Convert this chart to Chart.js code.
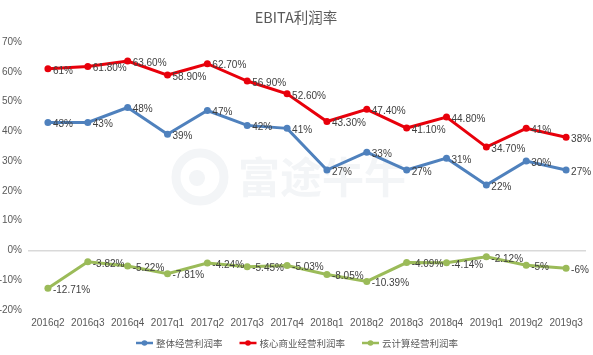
<!DOCTYPE html>
<html><head><meta charset="utf-8">
<script src="https://cdn.jsdelivr.net/npm/chart.js@4/dist/chart.umd.min.js"></script>
<style>html,body{margin:0;padding:0;background:#fff}#w{width:593px;height:355px}</style>
</head><body><div id="w"><canvas id="c"></canvas></div>
<script>
const categories = ["2016q2","2016q3","2016q4","2017q1","2017q2","2017q3","2017q4","2018q1","2018q2","2018q3","2018q4","2019q1","2019q2","2019q3"];
const overall = [43,43,48,39,47,42,41,27,33,27,31,22,30,27];
const overallLabels = ["43%","43%","48%","39%","47%","42%","41%","27%","33%","27%","31%","22%","30%","27%"];
const core = [61,61.8,63.6,58.9,62.7,56.9,52.6,43.3,47.4,41.1,44.8,34.7,41,38];
const coreLabels = ["61%","61.80%","63.60%","58.90%","62.70%","56.90%","52.60%","43.30%","47.40%","41.10%","44.80%","34.70%","41%","38%"];
const cloud = [-12.71,-3.82,-5.22,-7.81,-4.24,-5.45,-5.03,-8.05,-10.39,-4.09,-4.14,-2.12,-5,-6];
const cloudLabels = ["-12.71%","-3.82%","-5.22%","-7.81%","-4.24%","-5.45%","-5.03%","-8.05%","-10.39%","-4.09%","-4.14%","-2.12%","-5%","-6%"];
const seriesNames = ["整体经营利润率","核心商业经营利润率","云计算经营利润率"];
const titleText = "EBITA利润率";
const colors = ["#4f81bd","#e8000b","#9bbb59"];
const allLabels = [overallLabels, coreLabels, cloudLabels];
const FONT = "'Liberation Sans', 'Noto Sans CJK SC', sans-serif";

const extras = {
  id: 'extras',
  beforeDatasetsDraw(chart) {
    const ctx = chart.ctx;
    ctx.save();
    ctx.fillStyle = '#f3f5f7';
    ctx.font = "bold 42px 'Noto Sans CJK SC'";
    ctx.textBaseline = 'middle';
    ctx.fillText("富途牛牛", 238, 177);
    ctx.lineWidth = 9; ctx.strokeStyle = '#f3f5f7';
    ctx.beginPath(); ctx.arc(200,177,24,0,Math.PI*2); ctx.stroke();
    ctx.beginPath(); ctx.arc(197,178,8,0,Math.PI*2); ctx.fill();
    ctx.restore();
  },
  afterDraw(chart) {
    const ctx = chart.ctx;
    ctx.save();
    // title
    ctx.fillStyle = '#595959';
    ctx.font = "14.5px 'Noto Sans CJK SC', sans-serif";
    ctx.textAlign = 'center'; ctx.textBaseline = 'middle';
    ctx.fillText(titleText, 296, 17);
    // data labels
    ctx.font = "10px " + FONT;
    ctx.textAlign = 'left'; ctx.fillStyle = '#404040';
    chart.data.datasets.forEach((ds, i) => {
      const meta = chart.getDatasetMeta(i);
      meta.data.forEach((pt, j) => {
        ctx.fillText(allLabels[i][j], pt.x + 5, pt.y + 2);
      });
    });
    // legend
    ctx.font = "9.5px 'Noto Sans CJK SC', sans-serif";
    ctx.textBaseline = 'middle';
    const ly = 343;
    const widths = seriesNames.map(n => ctx.measureText(n).width);
    const lineW = 17, gapText = 3, gapItem = 17;
    let total = 0;
    widths.forEach((w,i) => { total += lineW + gapText + w + (i < widths.length-1 ? gapItem : 0); });
    let x = 297 - total/2;
    seriesNames.forEach((n, i) => {
      ctx.strokeStyle = colors[i]; ctx.lineWidth = 2.5;
      ctx.beginPath(); ctx.moveTo(x, ly); ctx.lineTo(x+lineW, ly); ctx.stroke();
      ctx.fillStyle = colors[i];
      ctx.beginPath(); ctx.arc(x+lineW/2, ly, 2.8, 0, Math.PI*2); ctx.fill();
      ctx.fillStyle = '#595959';
      ctx.fillText(n, x + lineW + gapText, ly);
      x += lineW + gapText + widths[i] + gapItem;
    });
    ctx.restore();
  }
};

const mk = (label, data, color) => ({
  label, data, borderColor: color, backgroundColor: color,
  borderWidth: 3, pointRadius: 3.5, pointBackgroundColor: color, pointBorderWidth: 0,
  tension: 0, fill: false
});

new Chart(document.getElementById('c'), {
  type: 'line',
  data: {
    labels: categories,
    datasets: [mk(seriesNames[0], overall, colors[0]), mk(seriesNames[1], core, colors[1]), mk(seriesNames[2], cloud, colors[2])]
  },
  options: {
    responsive: true, maintainAspectRatio: false, animation: false,
    devicePixelRatio: 1,
    layout: { padding: { top: 42, right: 7, bottom: 20, left: 0 } },
    plugins: { legend: { display: false }, title: { display: false }, tooltip: { enabled: false } },
    scales: {
      x: {
        offset: true,
        grid: { display: false, drawTicks: false },
        border: { display: false },
        ticks: { color: '#595959', font: { size: 10, family: FONT }, padding: 7, maxRotation: 0, autoSkip: false },
        afterFit(s) { s.height = 25; }
      },
      y: {
        min: -20, max: 70,
        grid: { color: ctx => ctx.tick && ctx.tick.value === 0 ? '#d9d9d9' : 'rgba(0,0,0,0)', drawTicks: false, lineWidth: 1.5 },
        border: { display: false },
        ticks: { stepSize: 10, color: '#595959', font: { size: 10, family: FONT }, padding: 6, callback: v => v + '%' },
        afterFit(s) { s.width = 28; }
      }
    }
  },
  plugins: [extras]
});
</script>
</body></html>
